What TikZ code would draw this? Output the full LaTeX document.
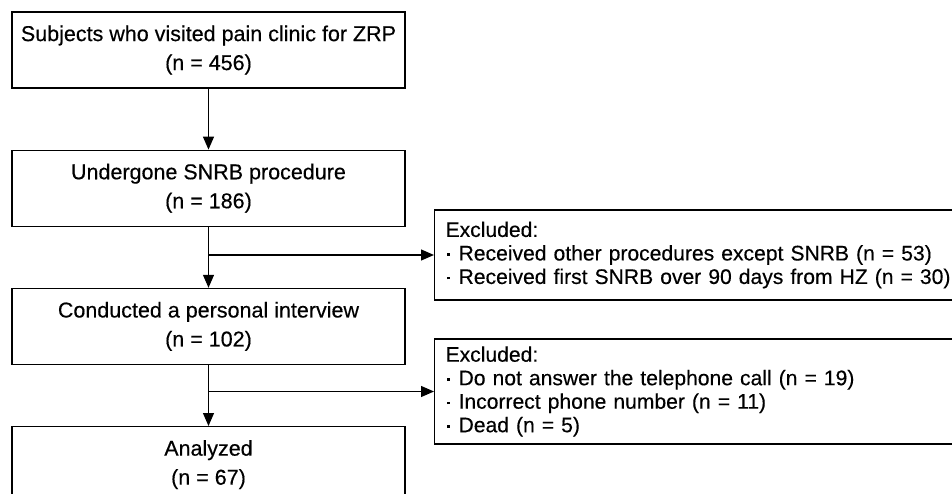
\documentclass[tikz,border=0pt]{standalone}
\usepackage{fontspec}
\setmainfont{Liberation Sans}[UprightFeatures={FakeBold=0.35}]
\usepackage{tikz}
\usetikzlibrary{positioning,arrows.meta}

% bullet of the exclusion lists
\newcommand{\exclitem}{\makebox[13pt][l]{\hspace{1.5pt}\raisebox{4.5pt}{\rule{2.6pt}{2.6pt}}}}

\begin{document}
\begin{tikzpicture}[x=1pt, y=-1pt,
    stage/.style={rectangle, draw=black, line width=1.2pt, minimum width=393pt, minimum height=76pt, align=center, inner sep=0pt, font=\fontsize{21.5}{29}\selectfont},
    excluded/.style={rectangle, draw=black, line width=1.2pt, anchor=west, text width=520pt, align=left, inner xsep=11pt, inner ysep=0pt, font=\fontsize{21.1}{23.5}\selectfont},
    flow/.style={line width=1.2pt, -{Triangle[length=13pt, width=11pt]}}]
  \clip (0,0) rectangle (952,494);

  % main stages
  \node[stage] (subjects) at (208.5,50) {Subjects who visited pain clinic for ZRP\\(n = 456)};
  \node[stage, below=61pt of subjects] (snrb) {Undergone SNRB procedure\\(n = 186)};
  \node[stage, below=61pt of snrb] (interview) {Conducted a personal interview\\(n = 102)};
  \node[stage, below=61pt of interview] (analyzed) {Analyzed\\(n = 67)};

  % exclusions
  \node[excluded, minimum height=90pt] (excl1) at (434,255) {Excluded:\\\exclitem Received other procedures except SNRB (n = 53)\\\exclitem Received first SNRB over 90 days from HZ (n = 30)};
  \node[excluded, minimum height=105pt] (excl2) at (434,391.5) {Excluded:\\\exclitem Do not answer the telephone call (n = 19)\\\exclitem Incorrect phone number (n = 11)\\\exclitem Dead (n = 5)};

  \coordinate (split1) at (snrb.south |- excl1.west);
  \coordinate (split2) at (interview.south |- excl2.west);

  \draw[flow] (subjects) -- (snrb);
  \draw[flow] (snrb) -- (interview);
  \draw[flow] (interview) -- (analyzed);
  \draw[flow] (split1) -- (excl1.west);
  \draw[flow] (split2) -- (excl2.west);
\end{tikzpicture}
\end{document}
